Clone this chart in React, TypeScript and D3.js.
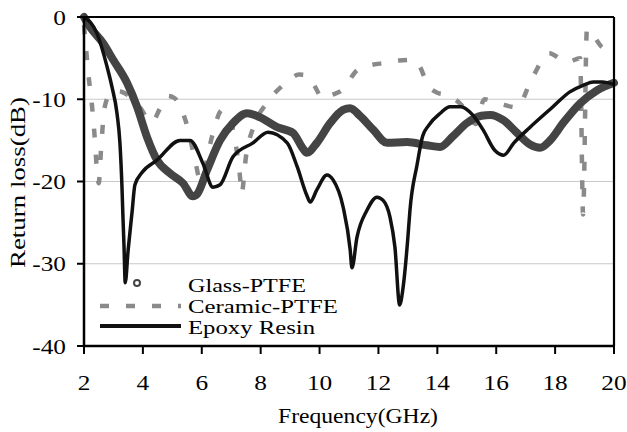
import React from "react";
import * as d3 from "d3";

// frequency (GHz) / return loss (dB)
const glassF = [2.0, 2.2, 2.65, 2.99, 3.46, 3.8, 4.14, 4.48, 4.92, 5.36, 5.7, 5.85, 6.18, 6.62, 7.06, 7.54, 7.98, 8.56, 9.1, 9.4, 9.57, 9.91, 10.36, 10.8, 11.04, 11.37, 11.82, 12.29, 12.97, 13.65, 14.09, 14.53, 15.0, 15.5, 15.8, 16.23, 16.71, 17.15, 17.49, 17.83, 18.27, 18.85, 19.43, 20.0];
const glassDb = [0, -1.2, -3.2, -5.2, -8.0, -10.9, -14.6, -17.4, -19.0, -20.2, -21.8, -21.5, -18.6, -15.0, -12.9, -11.7, -12.2, -13.4, -14.1, -15.8, -16.5, -15.3, -12.9, -11.3, -11.1, -12.0, -13.7, -15.3, -15.2, -15.6, -15.8, -14.5, -12.9, -12.0, -11.9, -12.5, -14.1, -15.5, -15.9, -15.0, -12.9, -10.5, -8.9, -8.0];

const ceramicF = [2.0, 2.05, 2.15, 2.25, 2.35, 2.45, 2.5, 2.58, 2.7, 2.9, 3.15, 3.5, 3.9, 4.3, 4.6, 4.85, 5.05, 5.45, 5.75, 5.95, 6.1, 6.35, 6.7, 6.9, 7.1, 7.3, 7.35, 7.5, 7.8, 8.2, 8.9, 9.3, 9.6, 9.85, 10.1, 10.4, 10.76, 11.3, 11.8, 12.22, 12.7, 13.18, 13.4, 13.68, 14.0, 14.36, 14.9, 15.3, 15.6, 16.1, 16.7, 17.2, 17.8, 18.4, 18.85, 18.95, 19.08, 19.6, 20.0];
const ceramicDb = [-1, -3, -7, -10, -14, -19, -20.2, -16, -11, -9.3, -9, -9.5, -11, -12.8, -11, -9.6, -9.8, -12.6, -17, -19.8, -18.5, -14.5, -11.3, -11.8, -14.5, -19.5, -21.5, -17, -13, -10.5, -7.9, -7, -7.1, -8.5, -9.9, -9.5, -8.9, -6.4, -5.8, -5.6, -5.3, -5.2, -6, -8.3, -9.2, -9.5, -11, -13, -10, -10.5, -11, -7.6, -4.4, -5.5, -5, -24, -1.5, -3.7, -4.5];

const epoxyF = [2.0, 2.44, 2.78, 2.95, 3.12, 3.22, 3.29, 3.32, 3.36, 3.4, 3.5, 3.63, 3.73, 3.97, 4.48, 5.26, 5.6, 6.04, 6.38, 6.62, 7.06, 7.74, 8.25, 8.9, 9.24, 9.57, 9.68, 9.91, 10.25, 10.46, 10.8, 11.04, 11.1, 11.27, 11.61, 11.95, 12.16, 12.39, 12.56, 12.72, 12.84, 13.0, 13.07, 13.31, 13.5, 13.7, 14.1, 14.43, 14.8, 15.2, 15.55, 15.95, 16.25, 16.6, 17.15, 17.9, 18.5, 18.95, 19.3, 19.6, 20.0];
const epoxyDb = [0, -2.0, -6.0, -8.5, -11.7, -15.3, -20.7, -24, -28, -32.3, -28.3, -23.8, -20.4, -18.9, -17.4, -15.0, -15.0, -17.8, -20.7, -20.4, -17.0, -15.3, -14.0, -15.3, -18.2, -21.7, -22.5, -21.0, -19.2, -19.8, -23.1, -28.3, -30.5, -26.8, -23.5, -21.9, -22.3, -24.3, -28, -35, -32.8, -26.8, -23.5, -18, -14.5, -13.2, -11.7, -10.9, -10.9, -11.9, -13.7, -16.2, -16.8, -15.3, -13.4, -11.0, -9.1, -8.3, -7.9, -7.9, -8.2];

const xTicks = [2, 4, 6, 8, 10, 12, 14, 16, 18, 20];
const yTicks = [0, -10, -20, -30, -40];
const legendLabels = ["Glass-PTFE", "Ceramic-PTFE", "Epoxy Resin"];

const W = 627, H = 432;
const left = 84, right = 614, top = 17, bottom = 346;
const font = "'Liberation Serif', 'Times New Roman', serif";

// rough width of a number label at 22px, stretched a little like the original
const labelLen = (s: string) => s.split("").reduce((a, c) => a + (c === "-" ? 7.3 : 11), 0) * 1.15;

export default function App() {
  const x = d3.scaleLinear().domain([2, 20]).range([left, right]);
  const y = d3.scaleLinear().domain([-40, 0]).range([bottom, top]);

  const line = d3
    .line<[number, number]>()
    .x((d) => x(d[0]))
    .y((d) => y(d[1]))
    .curve(d3.curveMonotoneX);

  const zip = (f: number[], v: number[]) => f.map((d, i) => [d, v[i]] as [number, number]);

  return (
    <svg width={W} height={H} style={{ position: "absolute", left: 0, top: 0, background: "#fff" }} fontFamily={font}>
      {yTicks.filter((t) => t !== 0 && t !== -40).map((t) => (
        <line key={t} x1={left} x2={right} y1={y(t)} y2={y(t)} stroke="#c8c8c8" strokeWidth={1.2} />
      ))}

      <path d={line(zip(ceramicF, ceramicDb)) || ""} fill="none" stroke="#8a8a8a" strokeWidth={4.5} strokeDasharray="9 17" />
      <path d={line(zip(glassF, glassDb)) || ""} fill="none" stroke="#444" strokeWidth={8} strokeLinejoin="round" strokeLinecap="round" />
      <path d={line(zip(epoxyF, epoxyDb)) || ""} fill="none" stroke="#111" strokeWidth={3.5} strokeLinejoin="round" />

      {/* frame */}
      <line x1={left} x2={right} y1={top} y2={top} stroke="#000" strokeWidth={1.8} />
      <line x1={right} x2={right} y1={top} y2={bottom} stroke="#000" strokeWidth={2.2} />
      <line x1={left} x2={left} y1={top} y2={bottom + 1} stroke="#000" strokeWidth={2.5} />
      <line x1={left - 1} x2={right + 1} y1={bottom} y2={bottom} stroke="#000" strokeWidth={2.5} />

      {xTicks.map((t) => (
        <g key={t}>
          <line x1={x(t)} x2={x(t)} y1={bottom} y2={bottom + 8} stroke="#000" strokeWidth={2} />
          <text x={x(t)} y={390} textAnchor="middle" fontSize={22} textLength={labelLen(String(t))} lengthAdjust="spacingAndGlyphs">{t}</text>
        </g>
      ))}
      {yTicks.map((t) => (
        <g key={t}>
          <line x1={left - 7} x2={left} y1={y(t)} y2={y(t)} stroke="#000" strokeWidth={2} />
          <text x={66} y={y(t) + 7.5} textAnchor="end" fontSize={22} textLength={labelLen(String(t))} lengthAdjust="spacingAndGlyphs">{t}</text>
        </g>
      ))}

      <text x={278} y={423} fontSize={22} textLength={160} lengthAdjust="spacingAndGlyphs">Frequency(GHz)</text>
      <text transform={`translate(25,268) rotate(-90)`} fontSize={22} textLength={171} lengthAdjust="spacingAndGlyphs">Return loss(dB)</text>

      {/* legend */}
      <circle cx={137} cy={283} r={3} fill="#fff" stroke="#444" strokeWidth={2} />
      <line x1={100} x2={181} y1={306} y2={306} stroke="#8a8a8a" strokeWidth={4.5} strokeDasharray="9 17" />
      <line x1={100} x2={181} y1={326} y2={326} stroke="#111" strokeWidth={4} />
      {legendLabels.map((l, i) => (
        <text key={l} x={188} y={292 + i * 21} fontSize={19} textLength={[118, 150, 127][i]} lengthAdjust="spacingAndGlyphs">{l}</text>
      ))}
    </svg>
  );
}
